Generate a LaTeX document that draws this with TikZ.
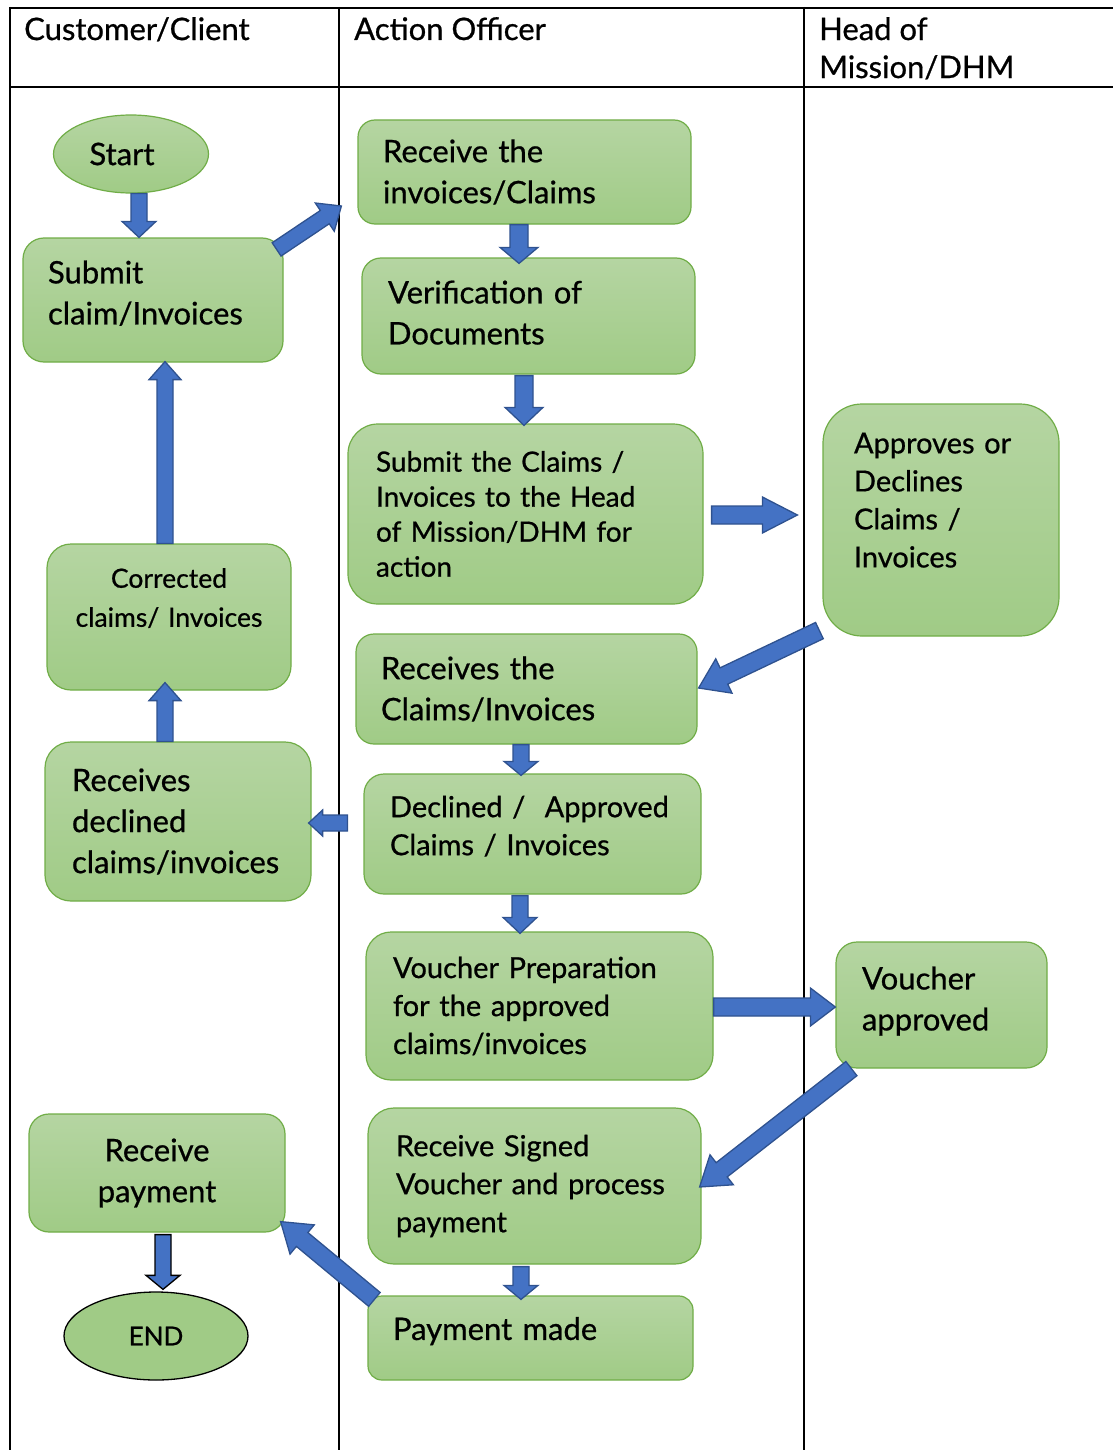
\documentclass[tikz,border=0pt]{standalone}
\usepackage{fontspec}
\setmainfont{Lato}[FakeBold=0.7]
\usetikzlibrary{calc,shapes.geometric}
\definecolor{gtop}{RGB}{181,213,162}
\definecolor{gbot}{RGB}{160,203,134}
\definecolor{gline}{RGB}{112,173,71}
\definecolor{afill}{RGB}{68,114,196}
\definecolor{aline}{RGB}{47,82,143}
\newcommand{\barrow}[6][aline]{%
  \coordinate (bs) at (#2);
  \coordinate (be) at (#3);
  \coordinate (hb) at ($(be)!#6!(bs)$);
  \draw[fill=afill, draw=#1, line width=1.3pt, line join=miter]
    ($(bs)!#4!90:(be)$) -- ($(hb)!#4!90:(be)$) -- ($(hb)!#5!90:(be)$) -- (be)
    -- ($(hb)!#5!-90:(be)$) -- ($(hb)!#4!-90:(be)$) -- ($(bs)!#4!-90:(be)$) -- cycle;
}
\tikzset{
  box/.style={draw=gline, line width=1.2pt, top color=gtop, bottom color=gbot,
    align=left, inner ysep=0pt},
  oval/.style={ellipse, draw=gline, line width=1.2pt, top color=gtop, bottom color=gbot, inner sep=0pt},
  big/.style={font=\fontsize{31}{41}\selectfont},
  mid/.style={font=\fontsize{29}{38}\selectfont},
  small/.style={font=\fontsize{28}{35}\selectfont},
  hdr/.style={font=\fontsize{31}{38}\selectfont, anchor=north west, inner sep=0pt, align=left},
  tbl/.style={line width=2pt, black}
}
\begin{document}
\begin{tikzpicture}[x=1pt,y=-1pt]
\useasboundingbox (0,0) rectangle (1113,1450);
% table
\draw[tbl] (10,8) -- (1113,8);
\draw[tbl] (10,87) -- (1113,87);
\draw[tbl] (10,7) -- (10,1450);
\draw[tbl] (339,7) -- (339,1450);
\draw[tbl] (804,7) -- (804,1450);
\node[hdr] (h1) at (24,17) {Customer/Client};
\node[hdr] (h2) at (354,17) {Action Officer};
\node[hdr] (h3) at (819,17) {Head of\\Mission/DHM};
% customer column
\node[oval, big, minimum width=155, minimum height=78] (start) at (131,154) {Start\hspace*{18pt}};
\node[box, big, rounded corners=21, minimum width=260, minimum height=124, text width=210, inner xsep=25] (submit) at (153,300) {Submit\\claim/Invoices\\[-26pt]\mbox{}};
\node[box, rounded corners=24, minimum width=244, minimum height=146, text width=224, inner xsep=10, align=center, font=\fontsize{26.5}{39}\selectfont] (corr) at (169,617) {Corrected\\claims/ Invoices\\[0pt]\mbox{}};
\node[box, big, rounded corners=26, minimum width=266, minimum height=159, text width=212, inner xsep=27] (recdec) at (178,821.5) {Receives\\declined\\claims/invoices};
\node[box, big, rounded corners=20, minimum width=256, minimum height=118, text width=216, inner xsep=20, align=center] (recpay) at (157,1173) {Receive\\payment};
\node[ellipse, draw=black, line width=1.3pt, fill=gbot, minimum width=184, minimum height=88, inner sep=0pt, font=\fontsize{26}{30}\selectfont] (endn) at (156,1336) {END};
% action officer column
\node[box, big, rounded corners=17, minimum width=333, minimum height=104, text width=283, inner xsep=25] (recinv) at (524.5,172) {Receive the\\invoices/Claims};
\node[box, big, rounded corners=19, minimum width=333, minimum height=116, text width=281, inner xsep=26] (verif) at (528.5,316) {Verification of\\Documents\\[-34pt]\mbox{}};
\node[box, small, rounded corners=30, minimum width=355, minimum height=180, text width=299, inner xsep=28] (subcl) at (525.5,514) {Submit the Claims /\\Invoices to the Head\\of Mission/DHM for\\action};
\node[box, big, rounded corners=18, minimum width=341, minimum height=110, text width=291, inner xsep=25] (reccl) at (526.5,689) {Receives the\\Claims/Invoices};
\node[box, mid, rounded corners=20, minimum width=337, minimum height=120, text width=285, inner xsep=26] (decapp) at (532.5,834) {Declined /~~Approved\\Claims / Invoices\\[-21pt]\mbox{}};
\node[box, mid, rounded corners=25, minimum width=347, minimum height=148, text width=293, inner xsep=27] (vprep) at (539.5,1006) {Voucher Preparation\\for the approved\\claims/invoices};
\node[box, mid, rounded corners=26, minimum width=333, minimum height=156, text width=277, inner xsep=28] (rsign) at (534.5,1186) {Receive Signed\\Voucher and process\\payment};
\node[box, big, rounded corners=14, minimum width=325, minimum height=84, text width=275, inner xsep=25] (paym) at (530.5,1338) {Payment made\\[-22pt]\mbox{}};
% head of mission column
\node[box, mid, rounded corners=39, minimum width=236, minimum height=232, text width=174, inner xsep=31] (appr) at (941,520) {Approves or\\Declines\\Claims /\\Invoices\\[2pt]\mbox{}};
\node[box, big, rounded corners=21, minimum width=211, minimum height=126, text width=159, inner xsep=26] (vapp) at (941.5,1005) {Voucher\\approved\\[-28pt]\mbox{}};
% block arrows
\barrow{$(start.south)+(8,0)$}{$(submit.north)+(-14,0)$}{8pt}{17pt}{16pt}
\barrow{$(submit.north east)+(-7,12)$}{$(recinv.west)+(-16,34)$}{8pt}{17pt}{20pt}
\barrow{$(recinv.south)+(-5.5,0)$}{$(verif.north)+(-9.5,6)$}{9pt}{19pt}{16pt}
\barrow{$(verif.south)+(-4.5,1)$}{$(subcl.north)+(-1.5,2)$}{9pt}{19pt}{18pt}
\barrow{$(subcl.east)+(8,1)$}{$(appr.west)+(-25,-5)$}{9pt}{18pt}{35pt}
\barrow{$(appr.south west)+(-3,-6)$}{$(reccl.east)+(1,-1)$}{9pt}{19pt}{28pt}
\barrow{$(reccl.south)+(-5.5,0)$}{$(decapp.north)+(-11.5,2)$}{8pt}{17pt}{14pt}
\barrow{$(decapp.west)+(-16,-11)$}{$(recdec.east)+(-3,1.5)$}{8pt}{13pt}{14pt}
\barrow{$(recdec.north)+(-13,0)$}{$(corr.south)+(-4,-8)$}{8pt}{16pt}{18pt}
\barrow{$(corr.north)+(-4,0)$}{$(submit.south)+(12,-1)$}{8pt}{16pt}{18pt}
\barrow{$(decapp.south)+(-12.5,1)$}{$(vprep.north)+(-19.5,2)$}{8pt}{17pt}{16pt}
\barrow{$(vprep.east)+(0,1)$}{$(vapp.west)+(0,2)$}{9pt}{19pt}{25pt}
\barrow{$(vapp.south west)+(16,0)$}{$(rsign.east)+(-2,1)$}{9pt}{19pt}{28pt}
\barrow{$(rsign.south)+(-13.5,2)$}{$(paym.north)+(-9.5,4)$}{8pt}{17pt}{14pt}
\barrow{$(paym.north west)+(7,4)$}{$(recpay.south east)+(-5,-11)$}{9pt}{19pt}{28pt}
\barrow[black]{$(recpay.south)+(6,2)$}{$(endn.north)+(7,-2)$}{8pt}{17pt}{14pt}
\end{tikzpicture}
\end{document}
